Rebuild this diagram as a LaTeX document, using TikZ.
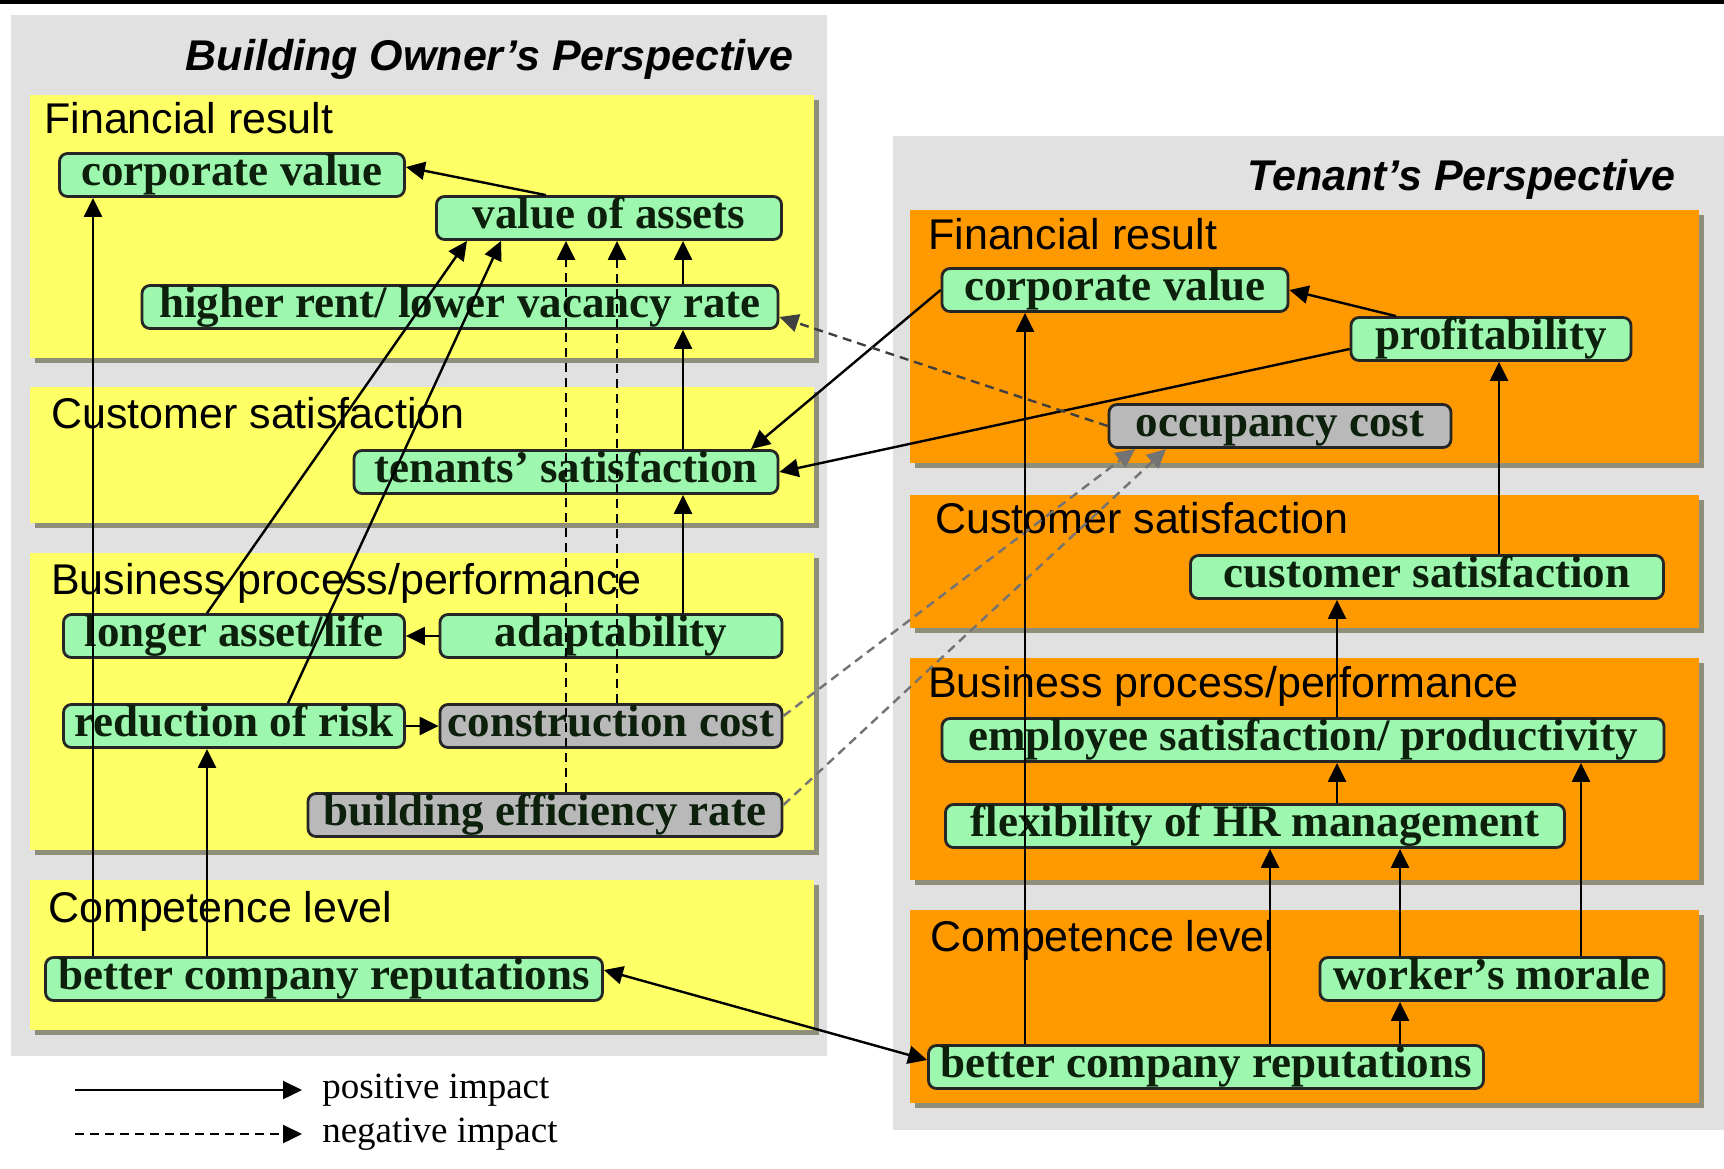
\documentclass[tikz,border=0pt]{standalone}
\usepackage{fontspec}
\setmainfont{Liberation Serif}
\setsansfont{Liberation Sans}
\usetikzlibrary{arrows.meta,shadows}
\definecolor{panelgray}{HTML}{E1E1E1}
\definecolor{owneryellow}{HTML}{FFFF66}
\definecolor{tenantorange}{HTML}{FF9900}
\definecolor{factorgreen}{HTML}{9DF7AE}
\definecolor{costgray}{HTML}{B9B9B9}
\definecolor{bandshadow}{HTML}{8E8E7A}
\definecolor{factorink}{HTML}{0C200C}

\begin{document}
\begin{tikzpicture}[x=1pt, y=-1pt, semithick,
  band/.style={drop shadow={shadow xshift=5pt, shadow yshift=-5pt, opacity=1, fill=bandshadow}},
  ownerband/.style={band, fill=owneryellow},
  tenantband/.style={band, fill=tenantorange},
  bandtitle/.style={anchor=base west, inner sep=0pt, font=\sffamily\fontsize{43}{43}\selectfont},
  viewtitle/.style={anchor=base east, inner sep=0pt, font=\sffamily\bfseries\itshape\fontsize{43}{43}\selectfont},
  factor/.style={draw=black!85, line width=2.8pt, rounded corners=8pt, fill=factorgreen, inner sep=1pt,
    text=factorink, minimum height=43pt, text height=31pt, text depth=10pt, font=\bfseries\fontsize{45}{45}\selectfont},
  cost/.style={factor, fill=costgray},
  legendtext/.style={anchor=west, inner sep=0pt, font=\fontsize{37}{37}\selectfont},
  posimpact/.style={-{Triangle[length=19pt,width=18pt]}, line width=2.4pt},
  negimpact/.style={posimpact, dash pattern=on 9pt off 6pt},
  mutual/.style={{Triangle[length=19pt,width=18pt]}-{Triangle[length=19pt,width=18pt]}, line width=2.4pt}]
  \useasboundingbox (0,0) rectangle (1724,1168);
  \fill[black] (0,0) rectangle (1724,4);

  \fill[panelgray] (11,15) rectangle (827,1056);
  \fill[panelgray] (893,136) rectangle (1724,1130);
  \node[viewtitle] (ownertitle) at (794,70) {Building Owner’s Perspective};
  \node[viewtitle] (tenanttitle) at (1676,190) {Tenant’s Perspective};

  \fill[ownerband] (30,95) rectangle (814,358);
  \fill[ownerband] (30,387) rectangle (814,523);
  \fill[ownerband] (30,553) rectangle (814,850);
  \fill[ownerband] (30,880) rectangle (814,1030);
  \fill[tenantband] (910,210) rectangle (1699,463);
  \fill[tenantband] (910,495) rectangle (1699,628);
  \fill[tenantband] (910,658) rectangle (1699,880);
  \fill[tenantband] (910,910) rectangle (1699,1103);

  \node[bandtitle] (ownerfin) at (44,133) {Financial result};
  \node[bandtitle] (ownercust) at (51,428) {Customer satisfaction};
  \node[bandtitle] (ownerbiz) at (51,594) {Business process/performance};
  \node[bandtitle] (ownercomp) at (48,922) {Competence level};
  \node[bandtitle] (tenantfin) at (928,249) {Financial result};
  \node[bandtitle] (tenantcust) at (935,533) {Customer satisfaction};
  \node[bandtitle] (tenantbiz) at (928,697) {Business process/performance};
  \node[bandtitle] (tenantcomp) at (930,951) {Competence level};

  \node[factor, minimum width=345pt] (cvL) at (232,175) {corporate value};
  \node[factor, minimum width=345pt] (voa) at (609,218) {value of assets};
  \node[factor, minimum width=636pt] (rent) at (460,307) {higher rent/ lower vacancy rate};
  \node[factor, minimum width=424pt] (tsat) at (566,472) {tenants’ satisfaction};
  \node[factor, minimum width=341pt] (life) at (234,636) {longer asset/life};
  \node[factor, minimum width=342pt] (adapt) at (611,636) {adaptability};
  \node[factor, minimum width=341pt] (risk) at (234,726) {reduction of risk};
  \node[cost, minimum width=342pt] (ccost) at (611,726) {construction cost};
  \node[cost, minimum width=474pt] (ber) at (545,815) {building efficiency rate};
  \node[factor, minimum width=557pt] (repL) at (324,979) {better company reputations};

  \node[factor, minimum width=346pt] (cvR) at (1115,290) {corporate value};
  \node[factor, minimum width=280pt] (prof) at (1491,339) {profitability};
  \node[cost, minimum width=342pt] (occ) at (1280,426) {occupancy cost};
  \node[factor, minimum width=473pt] (csat) at (1427,577) {customer satisfaction};
  \node[factor, minimum width=722pt] (emp) at (1303,740) {employee satisfaction/ productivity};
  \node[factor, minimum width=619pt] (flex) at (1255,826) {flexibility of HR management};
  \node[factor, minimum width=344pt] (morale) at (1492,979) {worker’s morale};
  \node[factor, minimum width=555pt] (repR) at (1206,1067) {better company reputations};

  \draw[posimpact] (voa.north -| 546,0) -- ([yshift=8pt]cvL.east);
  \draw[posimpact] (repL.north -| 93,0) -- (cvL.south -| 93,0);
  \draw[posimpact] (repL.north -| 207,0) -- (risk.south -| 207,0);
  \draw[posimpact] (life.north -| 207,0) -- (voa.south -| 467,0);
  \draw[posimpact] (risk.north -| 288,0) -- (voa.south -| 501,0);
  \draw[negimpact] (ber.north -| 566,0) -- (voa.south -| 566,0);
  \draw[negimpact] (ccost.north -| 617,0) -- (voa.south -| 617,0);
  \draw[posimpact] (rent.north -| 683,0) -- (voa.south -| 683,0);
  \draw[posimpact] (tsat.north -| 683,0) -- (rent.south -| 683,0);
  \draw[posimpact] (adapt.north -| 683,0) -- (tsat.south -| 683,0);
  \draw[posimpact] (adapt) -- (life);
  \draw[posimpact] (risk) -- (ccost);

  \draw[posimpact] (cvR.west) -- (tsat.north -| 751,0);
  \draw[posimpact] ([yshift=-10pt]prof.west) -- (tsat.east);
  \draw[negimpact, black!75] (occ.west) -- ([yshift=-10pt]rent.east);
  \draw[negimpact, black!55] ([yshift=10pt]ccost.east) -- (occ.south -| 1135,0);
  \draw[negimpact, black!55] ([yshift=10pt]ber.east) -- (occ.south -| 1166,0);
  \draw[mutual] ([yshift=7pt]repR.west) -- ([yshift=9pt]repL.east);

  \draw[posimpact] (prof.north -| 1396,0) -- (cvR.east);
  \draw[posimpact] (csat.north -| 1499,0) -- (prof.south -| 1499,0);
  \draw[posimpact] (emp.north -| 1337,0) -- (csat.south -| 1337,0);
  \draw[posimpact] (flex.north -| 1337,0) -- (emp.south -| 1337,0);
  \draw[posimpact] (repR.north -| 1025,0) -- (cvR.south -| 1025,0);
  \draw[posimpact] (repR.north -| 1270,0) -- (flex.south -| 1270,0);
  \draw[posimpact] (morale.north -| 1400,0) -- (flex.south -| 1400,0);
  \draw[posimpact] (repR.north -| 1400,0) -- (morale.south -| 1400,0);
  \draw[posimpact] (morale.north -| 1581,0) -- (emp.south -| 1581,0);

  \coordinate (posstart) at (75,1090);
  \coordinate (negstart) at (75,1134);
  \node[legendtext] (postext) at (322,1090) {positive impact};
  \node[legendtext] (negtext) at (322,1134) {negative impact};
  \draw[posimpact] (posstart) -- ([xshift=-20pt]postext.west);
  \draw[negimpact] (negstart) -- ([xshift=-20pt]negtext.west);
\end{tikzpicture}
\end{document}
